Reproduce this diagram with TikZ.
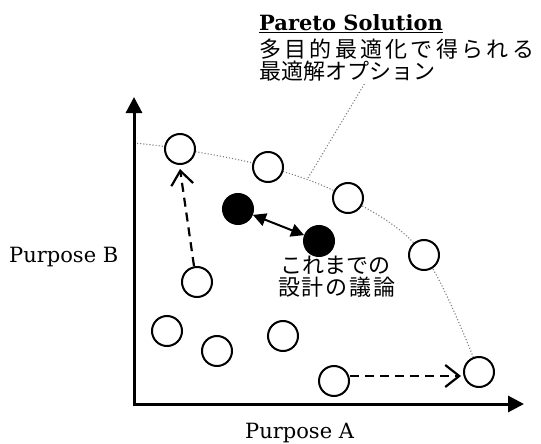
\documentclass[tikz,border=0pt]{standalone}
\usepackage{fontspec}
\setmainfont{DejaVu Serif}
\newfontfamily\jp{Noto Sans CJK JP}
\usetikzlibrary{arrows.meta}
\tikzset{
  oc/.style={circle,draw,line width=2pt,minimum size=30pt,inner sep=0pt,fill=white},
  fc/.style={circle,draw,line width=2pt,minimum size=30pt,inner sep=0pt,fill=black},
  axis/.style={line width=3pt,-{Triangle[length=16pt,width=16pt]}},
  dasharrow/.style={line width=2.2pt,dash pattern=on 9pt off 6pt,-{Straight Barb[length=14pt,width=22pt,line width=2.2pt]}},
  dblarrow/.style={line width=2pt,{Triangle[length=13pt,width=13pt]}-{Triangle[length=13pt,width=13pt]}},
  pareto/.style={gray,line width=1.1pt,dotted},
  lbl/.style={inner sep=0pt,font=\fontsize{21}{24}\selectfont},
  jlbl/.style={inner sep=0pt,font=\fontsize{22}{24}\selectfont\jp}
}
\begin{document}
\begin{tikzpicture}[x=1pt,y=-1pt]
\useasboundingbox (0,0) rectangle (541,444);
% pareto front
\draw[pareto] plot[smooth,tension=0.6] coordinates {(134,143) (180,149) (268,167) (348,198) (424,255) (479,372)};
\coordinate (lf) at (308,178);
\coordinate (lt) at (365,83);
\draw[pareto] (lf) -- (lt);
% axes
\coordinate (yb) at (134,406);
\coordinate (yt) at (134,97);
\coordinate (xb) at (133,404);
\coordinate (xt) at (524,404);
\draw[axis] (yb) -- (yt);
\draw[axis] (xb) -- (xt);
% circles
\node[oc] (c1) at (180,149) {};
\node[oc] (c2) at (268,167) {};
\node[oc] (c3) at (348,198) {};
\node[oc] (c4) at (424,255) {};
\node[oc] (c5) at (197,282) {};
\node[oc] (c6) at (167,331) {};
\node[oc] (c7) at (217,351) {};
\node[oc] (c8) at (283,336) {};
\node[oc] (c9) at (334,381) {};
\node[oc] (c10) at (479,372) {};
\node[fc] (f1) at (238,209) {};
\node[fc] (f2) at (319,241) {};
% arrows
\coordinate (s5) at ([xshift=-3pt]c5.north);
\coordinate (e1) at ([yshift=-4pt]c1.south);
\draw[dasharrow] (s5) -- (e1);
\coordinate (s9) at ([yshift=5pt]c9.east);
\coordinate (e10) at ([xshift=-2pt]c10.west |- s9);
\draw[dasharrow] (s9) -- (e10);
\draw[dblarrow] (f1) -- (f2);
% labels
\node[lbl,anchor=base west] (pb) at (9,262) {Purpose B};
\node[lbl,anchor=base west] (pa) at (245,438) {Purpose A};
\node[lbl,anchor=base west] (ps) at (259,31) {\underline{\textbf{Pareto Solution}}};
\node[jlbl,anchor=base west] (j1) at (259,58) {\addfontfeature{LetterSpace=15}多目的最適化で得られる};
\node[jlbl,anchor=base west] (j2) at (259,80) {最適解オプション};
\node[jlbl,anchor=base west] (j3) at (280,273) {これまでの};
\node[jlbl,anchor=base west] (j4) at (278,295) {\addfontfeature{LetterSpace=8}設計の議論};
\end{tikzpicture}
\end{document}
